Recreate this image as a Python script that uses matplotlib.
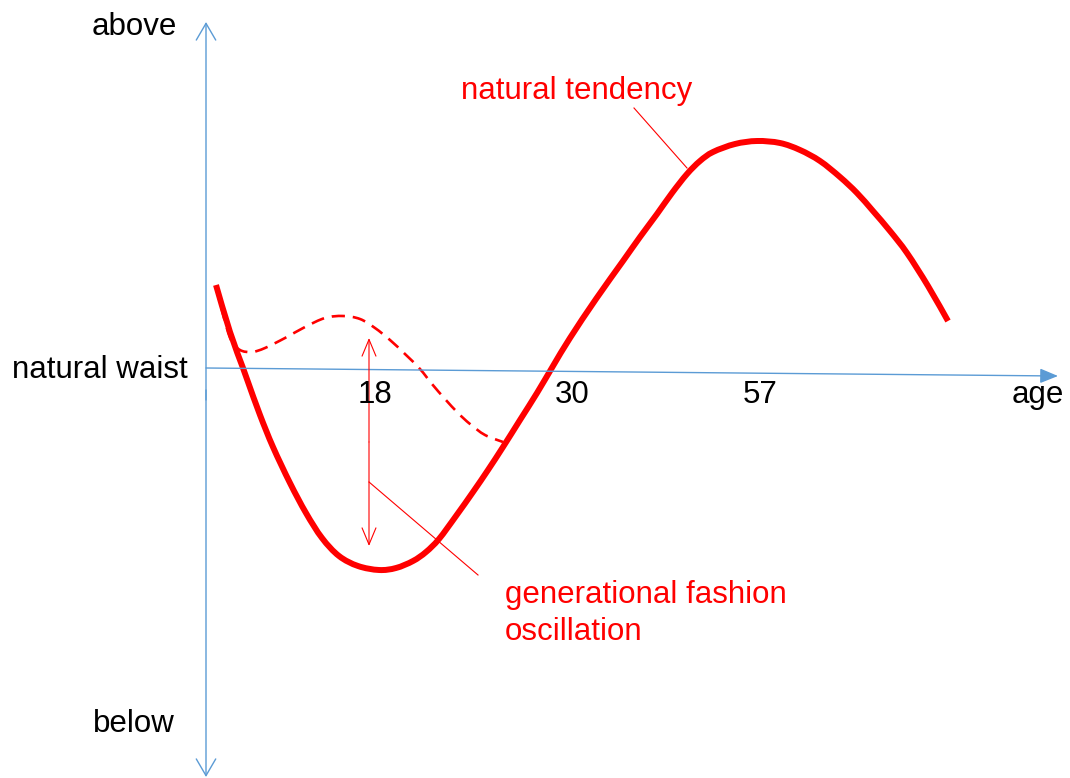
import matplotlib
matplotlib.use("Agg")
import matplotlib.pyplot as plt
from matplotlib.path import Path
from matplotlib.patches import PathPatch
import numpy as np

plt.rcParams['font.family'] = ['Liberation Sans', 'DejaVu Sans']

# ---- data (diagram coordinates: x to the right, y downward) ----
natural_x = [216, 230, 243, 248, 260, 273, 290, 306, 322, 339, 358, 379, 396, 413,
             426, 439, 456, 473, 488, 503, 520, 537, 553, 570, 596, 623, 640, 657,
             672, 687, 700, 713, 735, 757, 780, 800, 820, 840, 857, 873, 890, 907,
             928, 948]
natural_y = [285, 332, 368, 382, 415, 447, 483, 513, 538, 556, 566, 570, 568, 561,
             552, 539, 516, 492, 470, 447, 420, 393, 366, 338, 299, 261, 237, 214,
             193, 174, 161, 152, 144, 141, 143, 150, 161, 177, 193, 211, 231, 253,
             286, 321]

fashion_x = [216, 224, 231, 240, 252, 265, 285, 305, 325, 343, 360, 375, 390, 405,
             420, 432, 445, 458, 470, 485, 503]
fashion_y = [287, 318, 340, 350, 352, 348, 338, 327, 318, 316, 319, 328, 340, 354,
             369, 384, 399, 413, 424, 435, 442]

tick_labels = ['18', '30', '57']
tick_pos = [375, 572, 760]

BLUE = '#5B9BD5'
RED = '#FF0000'


def smooth_path(xs, ys):
    """Path through the read points, drawn with smooth cubic segments."""
    pts = np.column_stack([xs, ys]).astype(float)
    n = len(pts)
    verts = [pts[0]]
    codes = [Path.MOVETO]
    for i in range(n - 1):
        p0 = pts[i - 1] if i > 0 else pts[i]
        p1 = pts[i]
        p2 = pts[i + 1]
        p3 = pts[i + 2] if i + 2 < n else pts[i + 1]
        verts += [p1 + (p2 - p0) / 6.0, p2 - (p3 - p1) / 6.0, p2]
        codes += [Path.CURVE4] * 3
    return Path(verts, codes)


fig = plt.figure(figsize=(10.70, 7.78), dpi=100)
ax = fig.add_axes([0, 0, 1, 1])
ax.set_xlim(0, 1070)
ax.set_ylim(778, 0)
ax.axis('off')

# axes (blue)
ax.annotate('', xy=(206, 22), xytext=(206, 400),
            arrowprops=dict(arrowstyle='->,head_length=1.2,head_width=0.7', color=BLUE, lw=1.0, shrinkA=0, shrinkB=0))
ax.annotate('', xy=(206, 777), xytext=(206, 390),
            arrowprops=dict(arrowstyle='->,head_length=1.2,head_width=0.7', color=BLUE, lw=1.0, shrinkA=0, shrinkB=0))
ax.annotate('', xy=(1058, 376), xytext=(206, 368),
            arrowprops=dict(arrowstyle='-|>,head_length=1.1,head_width=0.45', color=BLUE, lw=1.0, shrinkA=0, shrinkB=0))

# curves
ax.add_patch(PathPatch(smooth_path(fashion_x, fashion_y), fill=False, edgecolor=RED,
                       lw=1.9, linestyle=(0, (5, 3)), capstyle='butt'))
ax.add_patch(PathPatch(smooth_path(natural_x, natural_y), fill=False, edgecolor=RED,
                       lw=4.3, capstyle='butt', joinstyle='round'))

# oscillation double arrow
ax.annotate('', xy=(369, 338), xytext=(369, 442),
            arrowprops=dict(arrowstyle='->,head_length=1.2,head_width=0.5', color=RED, lw=0.8, shrinkA=0, shrinkB=0))
ax.annotate('', xy=(369, 546), xytext=(369, 442),
            arrowprops=dict(arrowstyle='->,head_length=1.2,head_width=0.5', color=RED, lw=0.8, shrinkA=0, shrinkB=0))

# leader lines
ax.plot([369, 478], [482, 575], color=RED, lw=0.8)
ax.plot([634, 687], [108, 168], color=RED, lw=0.8)

fs = 22.5
ax.text(134, 35, 'above', fontsize=fs, ha='center', va='baseline', color='black')
ax.text(100, 378, 'natural waist', fontsize=fs, ha='center', va='baseline', color='black')
ax.text(134, 732, 'below', fontsize=fs, ha='center', va='baseline', color='black')
for p, t in zip(tick_pos, tick_labels):
    ax.text(p, 403, t, fontsize=fs, ha='center', va='baseline', color='black')
ax.text(1038, 403, 'age', fontsize=fs, ha='center', va='baseline', color='black')

ax.text(577, 99, 'natural tendency', fontsize=fs, ha='center', va='baseline', color=RED)
ax.text(505, 603, 'generational fashion', fontsize=fs, ha='left', va='baseline', color=RED)
ax.text(505, 640, 'oscillation', fontsize=fs, ha='left', va='baseline', color=RED)

fig.savefig('out.png', dpi=100)
